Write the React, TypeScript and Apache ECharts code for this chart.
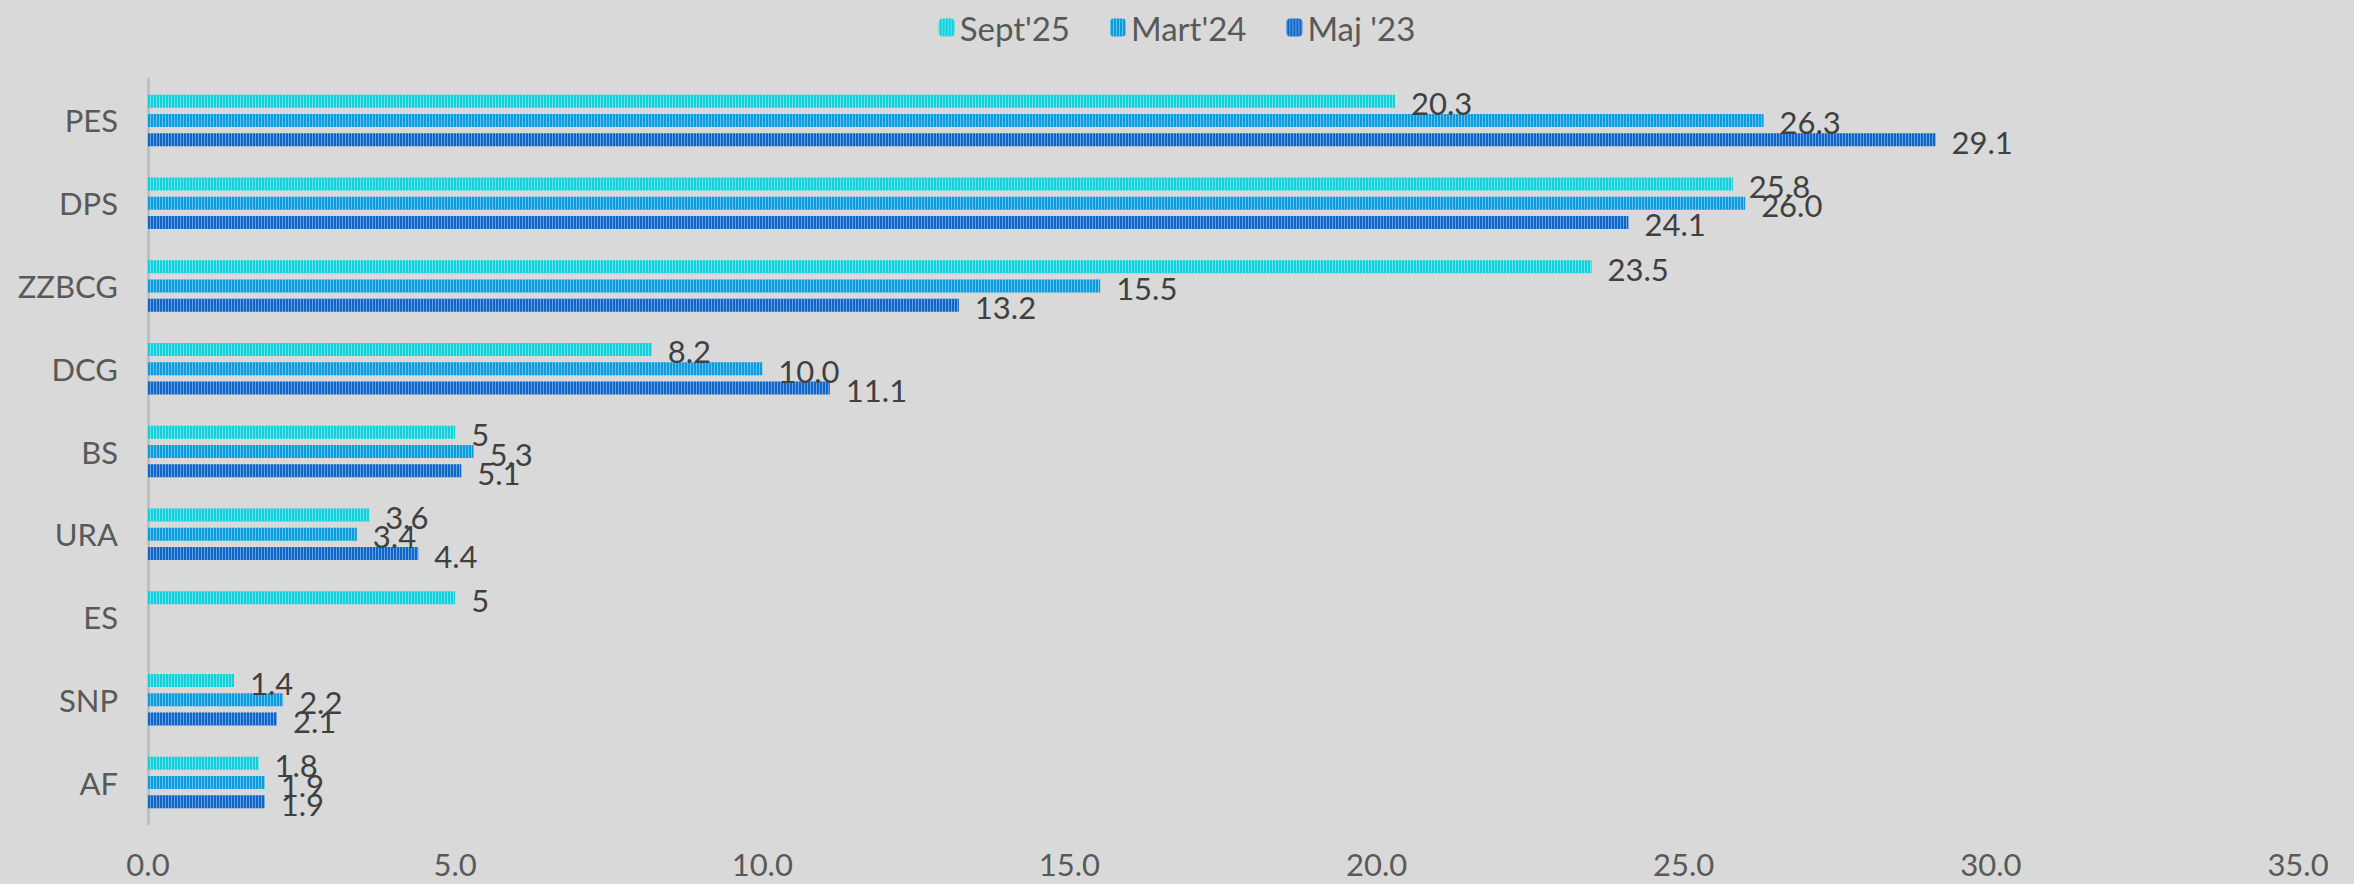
import React, { useEffect, useRef } from "react";
import * as echarts from "echarts";

const categories = ["PES", "DPS", "ZZBCG", "DCG", "BS", "URA", "ES", "SNP", "AF"];
const seriesNames = ["Sept'25", "Mart'24", "Maj '23"];
const sept25: (number | null)[] = [20.3, 25.8, 23.5, 8.2, 5, 3.6, 5, 1.4, 1.8];
const mart24: (number | null)[] = [26.3, 26.0, 15.5, 10.0, 5.3, 3.4, null, 2.2, 1.9];
const maj23: (number | null)[] = [29.1, 24.1, 13.2, 11.1, 5.1, 4.4, null, 2.1, 1.9];
const xTicks = { min: 0, max: 35, interval: 5 };

const colors = ["#10d0dc", "#0a9cde", "#0f66c9"];
const FONT = "Lato";

export default function App() {
  const ref = useRef<HTMLDivElement>(null);
  useEffect(() => {
    if (!ref.current) return;
    const chart = echarts.init(ref.current, null, { renderer: "svg" });
    const datas = [sept25, mart24, maj23];
    const decal = {
      symbol: "rect",
      symbolSize: 1,
      dashArrayX: [1, 2],
      dashArrayY: [4, 0],
      color: "rgba(255,255,255,0.38)",
      rotation: 0,
    };
    chart.setOption({
      animation: false,
      backgroundColor: "#d9d9d9",
      legend: {
        top: 6,
        left: "center",
        itemWidth: 16,
        itemHeight: 18,
        itemGap: 40,
        data: seriesNames,
        textStyle: { fontFamily: FONT, fontSize: 33, color: "#595959" },
      },
      grid: { left: 148, right: 56, top: 79, bottom: 60, containLabel: false },
      xAxis: {
        type: "value",
        min: xTicks.min,
        max: xTicks.max,
        interval: xTicks.interval,
        axisLine: { show: false },
        axisTick: { show: false },
        splitLine: { show: false },
        axisLabel: {
          formatter: (v: number) => v.toFixed(1),
          fontFamily: FONT,
          fontSize: 31,
          color: "#595959",
          margin: 24,
        },
      },
      yAxis: {
        type: "category",
        inverse: true,
        data: categories,
        axisLine: { show: true, lineStyle: { color: "#bfbfbf", width: 3 } },
        axisTick: { show: false },
        axisLabel: { fontFamily: FONT, fontSize: 31, color: "#595959", margin: 30 },
      },
      series: seriesNames.map((name, i) => ({
        name,
        type: "bar",
        data: datas[i],
        barWidth: 13,
        barGap: "48%",
        barCategoryGap: "37%",
        itemStyle: { color: colors[i], decal },
        label: {
          show: true,
          position: "right",
          distance: 16,
          offset: [0, 2],
          fontFamily: FONT,
          fontSize: 31,
          color: "#404040",
          formatter: (p: any) =>
            p.value == null ? "" : i === 0 ? String(p.value) : Number(p.value).toFixed(1),
        },
      })),
    });
    return () => chart.dispose();
  }, []);
  return <div ref={ref} style={{ position: "fixed", left: 0, top: 0, width: 2354, height: 884 }} />;
}
